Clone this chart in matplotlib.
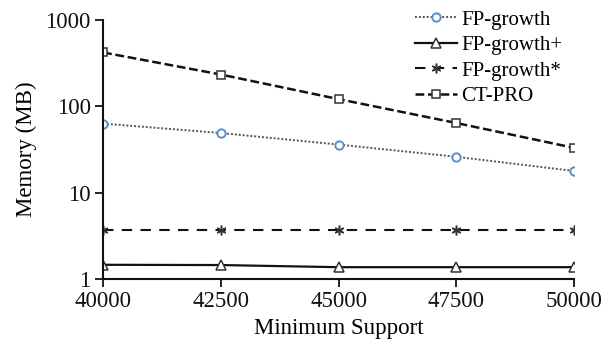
import matplotlib
matplotlib.use("Agg")
import matplotlib.pyplot as plt
from matplotlib.ticker import FixedLocator, NullLocator

plt.rcParams['font.family'] = ['Liberation Serif', 'DejaVu Serif']

# minimum support thresholds
support = [40000, 42500, 45000, 47500, 50000]

# memory usage (MB) per algorithm
fp_growth = [63, 49, 36, 26, 17.8]
fp_growth_plus = [1.46, 1.45, 1.37, 1.37, 1.37]
fp_growth_star = [3.7, 3.7, 3.7, 3.7, 3.7]
ct_pro = [420, 233, 121, 64, 33]

y_ticks = [1, 10, 100, 1000]
y_tick_labels = ['1', '10', '100', '1000']

fig = plt.figure(figsize=(6.03, 3.49), dpi=100)
ax = fig.add_axes([0.171, 0.2006, 0.781, 0.7424])

ax.plot(support, fp_growth, linestyle=(0, (1, 1)), color='#555555', lw=1.4,
        marker='o', ms=6, mfc='white', mec='#5b8ec6', mew=1.4, label='FP-growth')
ax.plot(support, fp_growth_plus, linestyle='-', color='#111111', lw=1.6,
        marker='^', ms=6.5, mfc='white', mec='#333333', mew=1.1, label='FP-growth+')
ax.plot(support, fp_growth_star, linestyle=(0, (5, 4)), color='#111111', lw=1.5,
        marker=(6, 2, 0), ms=7, mec='#333333', mew=1.1, label='FP-growth*')
ax.plot(support, ct_pro, linestyle=(0, (3.5, 1.5)), color='#111111', lw=1.8,
        marker='s', ms=6, mfc='white', mec='#333333', mew=1.1, label='CT-PRO')

ax.set_yscale('log')
ax.set_ylim(1, 1000)
ax.set_xlim(40000, 50000)
ax.yaxis.set_major_locator(FixedLocator(y_ticks))
ax.yaxis.set_minor_locator(NullLocator())
ax.set_yticklabels(y_tick_labels)
ax.set_xticks(support)
ax.set_xticklabels([str(s) for s in support])

for side in ('top', 'right'):
    ax.spines[side].set_visible(False)
for side in ('left', 'bottom'):
    ax.spines[side].set_linewidth(1.5)
    ax.spines[side].set_color('#111111')
ax.tick_params(axis='both', direction='out', length=6, width=1.3,
               labelsize=16.5, colors='#111111', pad=3)

ax.set_xlabel('Minimum Support', fontsize=16.5, labelpad=4)
ax.set_ylabel('Memory (MB)', fontsize=16.5, labelpad=6)

ax.legend(loc='upper left', bbox_to_anchor=(0.645, 1.07), frameon=False,
          fontsize=15, handlelength=2.0, handletextpad=0.2,
          labelspacing=0.28, borderaxespad=0.0)

fig.savefig('out.png', dpi=100)
